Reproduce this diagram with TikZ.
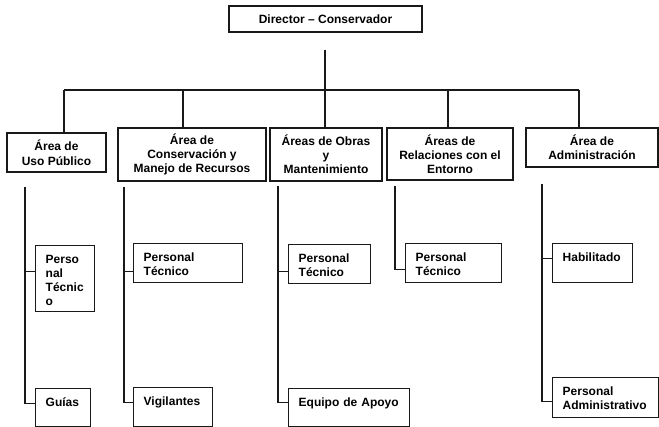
\documentclass[tikz,border=0pt]{standalone}
\usepackage{fontspec}
\setmainfont{Liberation Sans}
\begin{document}
\begin{tikzpicture}[x=1pt,y=-1pt,
  upbox/.style={draw=black!90, line width=1.4pt, inner sep=0pt, align=center,
    font=\fontsize{12}{13.8}\selectfont\bfseries},
  subbox/.style={draw=black!90, line width=1.4pt, anchor=north west, inner xsep=10pt,
    inner ysep=0pt, align=left, text height=18pt,
    font=\fontsize{12}{14}\selectfont\bfseries},
  conn/.style={line width=1.1pt, draw=black!90}]
\useasboundingbox (0,0) rectangle (659,427);
% top level
\node[upbox, minimum width=193pt, minimum height=26pt] (dir) at (325.5,19) {Director -- Conservador};
\node[upbox, minimum width=99pt, minimum height=39pt, font=\fontsize{12}{15.5}\selectfont\bfseries] (uso) at (56.5,152.5) {Área de\\Uso Público};
\node[upbox, minimum width=148pt, minimum height=53pt] (con) at (192,154.5) {Área de\\Conservación y\\Manejo de Recursos};
\node[upbox, minimum width=112pt, minimum height=53pt] (obr) at (326,154.5) {Áreas de Obras\\y\\Mantenimiento};
\node[upbox, minimum width=126pt, minimum height=52pt] (ent) at (450,154) {Áreas de\\Relaciones con el\\Entorno};
\node[upbox, minimum width=132pt, minimum height=39pt] (adm) at (592,147.5) {Área de\\Administración};
% sub boxes
\node[subbox, text width=39pt, text depth=48pt] (uso1) at (35,245) {\mbox{Perso}\\\mbox{nal}\\\mbox{Técnic}\\\mbox{o}};
\node[subbox, text width=35pt, text depth=20pt] (uso2) at (35,388) {\mbox{Guías}};
\node[subbox, text width=89pt, text depth=21pt] (con1) at (133,243) {\mbox{Personal}\\\mbox{Técnico}};
\node[subbox, text width=59pt, text depth=21pt] (con2) at (133,387) {\mbox{Vigilantes}};
\node[subbox, text width=62pt, text depth=21pt] (obr1) at (288,244) {\mbox{Personal}\\\mbox{Técnico}};
\node[subbox, text width=101pt, text depth=20pt] (obr2) at (288,388) {\mbox{Equipo de Apoyo}};
\node[subbox, text width=76pt, text depth=21pt] (ent1) at (405,243) {\mbox{Personal}\\\mbox{Técnico}};
\node[subbox, text width=60pt, text depth=21pt] (adm1) at (552,243) {\mbox{Habilitado}};
\node[subbox, text width=86pt, text depth=22pt] (adm2) at (552,377) {\mbox{Personal}\\\mbox{Administrativo}};
% main connectors
\coordinate (dtop) at (325,50);
\coordinate (busL) at (64,90);
\coordinate (busR) at (579,90);
\coordinate (b2) at (183,90);
\coordinate (b4) at (448,90);
\draw[conn] (dtop) -- (dtop |- obr.north);
\draw[conn] (busL) -- (busR);
\draw[conn] (busL) -- (busL |- uso.north);
\draw[conn] (b2) -- (b2 |- con.north);
\draw[conn] (b4) -- (b4 |- ent.north);
\draw[conn] (busR) -- (busR |- adm.north);
% rails
\coordinate (ru) at (25,187);
\coordinate (rc) at (124,187);
\coordinate (ro) at (278,186);
\coordinate (re) at (395,186);
\coordinate (ra) at (542,184);
\draw[conn] (ru) |- ([yshift=4pt]uso2.west);
\draw[conn] ([yshift=7pt]uso1.west) -- ++(-10,0);
\draw[conn] (rc) |- ([yshift=4.5pt]con2.west);
\draw[conn] ([yshift=-8.5pt]con1.west) -- ++(-9,0);
\draw[conn] (ro) |- ([yshift=5pt]obr2.west);
\draw[conn] ([yshift=-7.5pt]obr1.west) -- ++(-10,0);
\draw[conn] (re) |- ([yshift=-6.5pt]ent1.west);
\draw[conn] (ra) |- ([yshift=-4pt]adm2.west);
\draw[conn] ([yshift=4.5pt]adm1.west) -- ++(-10,0);
\end{tikzpicture}
\end{document}
